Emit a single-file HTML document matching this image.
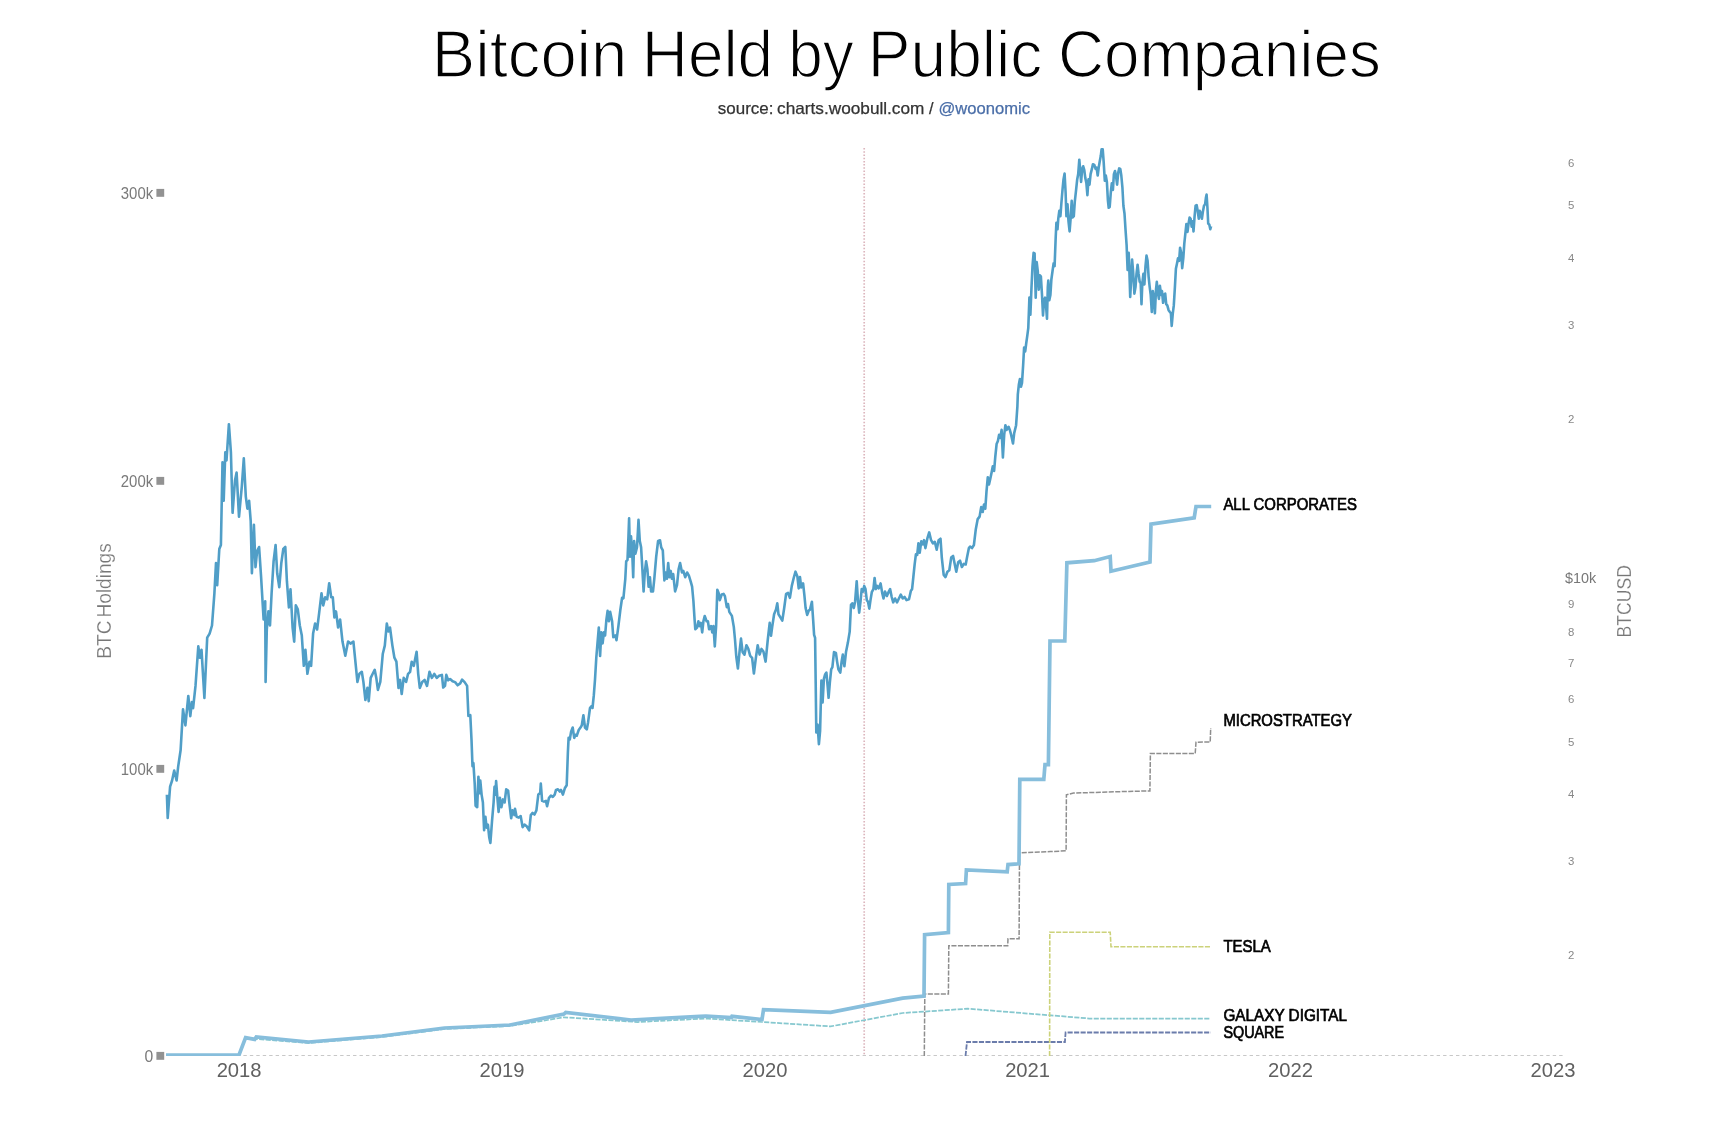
<!DOCTYPE html>
<html><head><meta charset="utf-8"><title>Bitcoin Held by Public Companies</title>
<style>
html,body{margin:0;padding:0;background:#fff;}
body{width:1710px;height:1142px;overflow:hidden;position:relative;font-family:"Liberation Sans",sans-serif;}
svg text{font-family:"Liberation Sans",sans-serif;}
.rt{font-size:11.4px;fill:#888;}
.lt{font-size:15.7px;fill:#7a7a7a;}
.xt{font-size:20.2px;fill:#606060;}
.lab{font-size:16.3px;fill:#000;stroke:#000;stroke-width:0.68px;}
.ax{font-size:18.6px;fill:#777;}
</style></head><body>
<svg id="chart" width="1710" height="1142" viewBox="0 0 1710 1142" style="position:absolute;left:0;top:0;will-change:transform;opacity:0.9999">
<rect width="1710" height="1142" fill="#fff"/>
<text x="431.82" y="77" font-size="67" fill="#000" stroke="#fff" stroke-width="1.45" textLength="195.52" lengthAdjust="spacingAndGlyphs">Bitcoin</text><text x="641.85" y="77" font-size="67" fill="#000" stroke="#fff" stroke-width="1.45" textLength="131.28" lengthAdjust="spacingAndGlyphs">Held</text><text x="788.22" y="77" font-size="67" fill="#000" stroke="#fff" stroke-width="1.45" textLength="65.58" lengthAdjust="spacingAndGlyphs">by</text><text x="867.85" y="77" font-size="67" fill="#000" stroke="#fff" stroke-width="1.45" textLength="174.52" lengthAdjust="spacingAndGlyphs">Public</text><text x="1058.00" y="77" font-size="67" fill="#000" stroke="#fff" stroke-width="1.45" textLength="322.80" lengthAdjust="spacingAndGlyphs">Companies</text>
<text x="717.80" y="113.5" font-size="16.5" fill="#333" stroke="#333" stroke-width="0.25" textLength="55.60" lengthAdjust="spacingAndGlyphs">source:</text><text x="777.10" y="113.5" font-size="16.5" fill="#333" stroke="#333" stroke-width="0.25" textLength="147.30" lengthAdjust="spacingAndGlyphs">charts.woobull.com</text><text x="929.00" y="113.5" font-size="16.5" fill="#333" stroke="#333" stroke-width="0.25" textLength="4.50" lengthAdjust="spacingAndGlyphs">/</text><text x="938.50" y="113.5" font-size="16.5" fill="#4a6ea8" stroke="#4a6ea8" stroke-width="0.25" textLength="91.60" lengthAdjust="spacingAndGlyphs">@woonomic</text>
<line x1="166" y1="1055.5" x2="1564" y2="1055.5" stroke="#c8c8c8" stroke-width="1" stroke-dasharray="3.4,3.05"/>
<line x1="864.2" y1="148" x2="864.2" y2="1055" stroke="#dcb6bd" stroke-width="1.7" stroke-dasharray="1.5,1.72"/>
<text x="153.2" y="198.7" class="lt" text-anchor="end" textLength="32.4" lengthAdjust="spacingAndGlyphs">300k</text><rect x="156.4" y="188.9" width="7.8" height="7.9" fill="#929292"/><text x="153.2" y="486.7" class="lt" text-anchor="end" textLength="32.4" lengthAdjust="spacingAndGlyphs">200k</text><rect x="156.4" y="476.9" width="7.8" height="7.9" fill="#929292"/><text x="153.2" y="774.7" class="lt" text-anchor="end" textLength="32.4" lengthAdjust="spacingAndGlyphs">100k</text><rect x="156.4" y="764.9" width="7.8" height="7.9" fill="#929292"/><text x="153.2" y="1061.7" class="lt" text-anchor="end">0</text><rect x="156.4" y="1051.9" width="7.8" height="7.9" fill="#929292"/>
<text x="1568" y="167.1" class="rt">6</text><text x="1568" y="209.1" class="rt">5</text><text x="1568" y="262.1" class="rt">4</text><text x="1568" y="329.1" class="rt">3</text><text x="1568" y="423.1" class="rt">2</text><text x="1568" y="608.1" class="rt">9</text><text x="1568" y="636.1" class="rt">8</text><text x="1568" y="667.1" class="rt">7</text><text x="1568" y="703.1" class="rt">6</text><text x="1568" y="746.1" class="rt">5</text><text x="1568" y="798.1" class="rt">4</text><text x="1568" y="865.1" class="rt">3</text><text x="1568" y="959.1" class="rt">2</text>
<text x="1565" y="582.8" font-size="14.4" fill="#777">$10k</text>
<text x="239.1" y="1077" class="xt" text-anchor="middle">2018</text><text x="502" y="1077" class="xt" text-anchor="middle">2019</text><text x="765" y="1077" class="xt" text-anchor="middle">2020</text><text x="1027.6" y="1077" class="xt" text-anchor="middle">2021</text><text x="1290.5" y="1077" class="xt" text-anchor="middle">2022</text><text x="1553" y="1077" class="xt" text-anchor="middle">2023</text>
<text class="ax" style="font-size:20.4px;word-spacing:-2.5px" stroke="#fff" stroke-width="0.2" transform="translate(111.3,601) rotate(-90)" text-anchor="middle" textLength="115.5" lengthAdjust="spacingAndGlyphs">BTC Holdings</text>
<text class="ax" style="font-size:20.2px" stroke="#fff" stroke-width="0.2" transform="translate(1631.2,601.3) rotate(-90)" text-anchor="middle" textLength="72.5" lengthAdjust="spacingAndGlyphs">BTCUSD</text>
<clipPath id="plot"><rect x="160" y="140" width="1410" height="916"/></clipPath>
<g clip-path="url(#plot)">
<polyline fill="none" stroke="#509ec7" stroke-width="2.6" stroke-linejoin="round" points="166.9,794.6 167.7,818 170.1,786.6 172.1,780.5 174.2,770.5 176.6,780.5 178.2,766.4 180.6,750.3 183,709.3 185.4,725.4 188.3,696 190.3,716.1 191.9,702 193.1,708.1 195.5,685.9 198.3,646.4 199.9,657.7 201.5,649.7 204.4,698 207.2,637.6 209.6,633.6 212,625.5 214.4,593.3 216,563.1 217.2,585.2 219.3,549 220.9,545 222.5,462.4 223.7,500.7 225.3,452.3 226.5,460.4 228.9,424.2 230.9,452.3 232.6,512.8 235,480.5 236.6,472.5 239,516.8 241.8,486.6 243.8,458.4 245.8,496.6 247.4,508.7 249.1,500.7 250.7,520.8 251.9,573.2 253.9,524.8 255.5,567.1 257.1,551 259.1,547 261.1,577.2 263.6,619.5 265.2,601.3 265.6,681.9 266.8,629.5 268.4,611.4 270,625.5 271.6,593.3 273.6,561.1 275.6,545 277.2,573.2 279.3,587.2 281.3,563.1 283.3,549 285.3,547 286.9,581.2 288.9,607.4 290.5,589.3 292.6,627.5 294.2,641.6 295.8,605.4 297.8,609.4 299.8,625.5 301.8,635.6 303.8,665.8 305.4,649.7 307.4,673.8 309.5,661.7 311.1,665.8 313.1,633.6 315.1,623.5 317.1,629.5 319.1,613.4 321.5,593.3 323.2,605.4 325.2,597.3 327.2,599.3 329.2,583.2 331.2,597.3 332.8,597.3 334.4,617.4 336,611.4 338.1,627.5 340.1,619.5 342.5,641.6 345.3,655.7 348.1,641.6 350.5,643.6 353.4,641.6 355.4,661.7 357.4,681.9 359.4,673.8 361.8,671.8 363.4,681.9 365.4,700 367.4,687.9 368.7,701.2 370.7,677.9 372.7,673.8 374.7,669.8 376.3,677.9 377.9,689.9 380.3,681.9 382.8,653.7 384.8,645.6 386.8,623.5 388.4,631.5 390,627.5 392.4,645.6 394.4,657.7 396.4,661.7 398.5,687.9 400.1,679.9 401.7,694 403.7,677.9 406.1,681.9 408.1,673.8 410.1,671.8 411.7,661.7 413.8,665.8 416.6,651.7 418.2,673.8 419.8,687.9 422.2,681.9 424.6,679.9 427,685.9 429.5,671.8 431.9,677.9 434.3,673.8 436.7,677.9 439.1,675.8 441.9,674.9 443.2,687.5 445,685.9 446.3,674.9 448.2,680.3 450.1,679 452.6,681.2 455.1,682.1 457.6,685.3 460.2,683.4 462.1,679.6 464.6,682.1 467.1,685.9 468.4,715.9 470.3,715.2 471.5,739.5 472.5,766.3 473.4,763.1 474.7,783.6 475.6,805.7 477.2,807.2 478.4,776.7 479.7,793.1 480.3,780.5 481.6,794.6 482.9,802.5 484.1,830.3 485.4,816.7 486.6,827.7 487.9,824.6 489.2,837.2 490.4,842.9 492,821.4 493.6,802.5 494.5,786.8 495.5,794.6 496.1,781.1 497.4,797.8 498.6,812 499.9,797.8 501.4,807.2 503,799.4 504.6,802.5 506.2,789.3 508.1,790.5 509.3,802.5 511.2,818.3 512.5,810.4 514.4,815.1 515,808.8 516.6,816.7 518.8,817.6 520.7,816.1 522.6,827.1 524.5,824.6 526.7,826.2 529.2,830.3 530.8,815.1 532.6,812.9 534.5,814.5 536.4,810.4 538.3,794.6 540.2,793.1 540.8,783.6 542.1,800.9 544,801.6 545.9,800.9 547.1,806.3 549,797.8 550.9,795.6 552.8,796.8 554.7,794.6 556,789.9 557.9,789.3 559.7,791.5 561,789.9 562.9,794.6 564.8,788.3 566.7,785.2 567.9,752.1 568.6,737.9 569.8,739.5 571.1,731.6 572.7,727.5 574.2,737.9 575.5,734.8 576.8,735.7 578.7,730 580.5,727.5 581.8,725.3 583.4,715.2 585,727.5 586.8,729.4 588.1,722.2 590,708 591.3,706.4 592.5,708 593.8,695.4 595,679.6 596.3,657.6 597.6,641.8 598.8,627.6 600.1,656 601.3,632.4 602.6,643.4 603.9,632.4 605.1,635.5 606.4,619.7 607.6,610.9 608.9,621.3 610.2,611.9 612.1,621.3 613.3,637.1 615.2,635.5 616.5,640.2 618.4,626.1 620.3,610.3 622.1,597.7 623.4,598.3 625.3,578.8 626.2,561.4 627.5,559.9 628.4,537.8 629.1,518.3 630,556.7 631,536.2 632.2,552 633.2,577.2 634.1,541 635.4,553.6 637,547.3 637.9,531.5 638.5,519.9 639.8,541 641.1,547.3 642.3,567.8 643.6,591.4 644.8,572.5 646.1,561.4 647.4,569.3 648.6,586.7 649.9,577.2 651.1,591.4 653,591.4 654.3,578.8 656.2,556.7 658.1,541 660,540.3 661.2,547.3 662.8,550.4 664.4,580.4 665.6,572.5 666.9,578.8 668.2,563 669.4,577.2 670.7,570.9 671.9,578.8 673.2,574.1 675.1,591.4 677,585.1 678.6,569.3 680.1,563 682,572.5 683.3,570.9 685.2,577.2 687.1,572.5 688.9,575.6 690.8,581.9 692.1,586.7 693.4,600.8 694.6,619.7 695.3,629.2 697.1,627.6 698.4,621.3 699.7,626.1 700.9,622.9 702.2,632.4 703.4,621.3 704.7,616 706.6,621.3 707.9,621.3 709.1,629.2 711,626.1 712.3,632.4 713.5,626.1 714.8,646.5 716.1,626.1 717.3,589.8 718.6,593 719.8,600.2 721.7,594.5 723.6,593.9 724.9,596.1 726.8,607.1 728,604 729.3,611.9 731.9,615.9 733.8,626.9 735,639.5 736.3,656.8 737.9,668.5 739.5,652.1 741,638.6 742.6,652.1 744.5,654.6 746.4,645.2 748.3,648.9 750.2,655.9 752.1,657.8 753.9,673.5 755.8,658.4 757.7,645.2 759.6,654.6 761.5,648.9 763.4,651.5 765.6,661.6 767.8,639.5 769.7,622.8 771,635.7 772.2,626.9 774.1,614.3 776,609.6 777.3,603.3 778.5,614.3 780.4,617.4 782.3,620.6 784.2,608 786.1,593.8 788,592.9 789.9,597.9 791.8,585.9 793.7,578 795.5,571.7 797.4,576.5 798.7,588.4 800,577.1 801.2,587.5 803.1,583.4 804.4,595.4 805.6,608 807.2,614.9 808.8,610.5 810,609.6 811.9,601.7 813.2,620.6 814.1,634.8 815.1,637.9 815.7,683.6 816.3,732.5 817.6,724.6 818.9,744.1 820.1,730.9 821.4,680.5 822.6,702.5 823.9,678.9 825.2,674.2 826.4,672.6 827.7,686.8 828.6,697.8 829.9,682 831.2,669.4 832.4,667.2 834,652.1 835.9,653 837.1,661.6 838.4,669.4 840.3,672.6 841.6,661.6 842.8,654.6 844.4,666.3 846,652.1 847.9,642.6 849.7,631.6 851,604.8 852.3,603.3 853.8,608 855.1,601.7 856.7,581.2 857.9,600.1 859.2,612.7 860.5,601.7 861.7,589.1 863,591.6 864.2,585.9 865.5,589.1 866.8,600.1 868,601.7 869.3,608.6 870.5,600.1 871.8,592.2 873.4,589.1 874.6,578 875.9,589.1 877.2,585.9 878.7,588.4 880.6,583.4 882.2,592.9 883.5,598.5 885,591.6 886.9,596 888.5,592.2 890.1,589.1 891.7,597 893.2,602.3 895.1,598.5 897,602.3 898.9,598.5 900.8,594.7 902.7,598.5 904.6,597 906.5,600.1 909,599.2 910.9,590.7 912.1,589.1 913.4,576.5 914.7,563.9 915.9,554.4 917.2,555 918.4,543.4 919.7,552.8 921.3,541.2 922.9,544.3 924.1,540.2 925.4,548.1 927.3,538.7 929.2,532.4 931.1,540.2 932.9,543.4 934.8,541.8 936.7,549.7 938.6,540.2 940.5,538.7 941.8,557.6 943.7,574.9 945.5,577.1 947.4,571.7 949.3,570.2 951.2,557.6 953.1,556 955,565.4 956.3,571.7 958.2,562.3 960,560.7 961.9,567 963.8,563.9 965.7,564.5 967,557.6 968.9,548.1 970.1,546.5 972,548.1 973.9,545 975.8,529.2 977.7,519.1 979.6,516.6 981.2,507.1 982.7,511.9 984,504.6 985.3,508.7 986.5,491.4 987.8,477.2 989,484.5 990.3,478.8 991.6,472.5 992.8,466.2 994.1,470.9 995.3,456.7 996.6,444.1 997.9,441 999.1,434.7 1000.4,437.8 1001.6,429.9 1002.9,457.4 1004.2,434.7 1005.4,425.2 1006.7,429.9 1008.6,426.8 1009.8,429.9 1011.1,434.7 1013,443.5 1014.2,433.1 1016.1,425.2 1017.4,406.3 1017.8,394.7 1018.9,384.2 1019.9,379 1021,386.8 1022,382.9 1023.1,365.8 1024.1,347.5 1025.2,351.4 1026.2,343.5 1027.3,335.6 1028.3,327.8 1029.4,297.6 1030.4,314.6 1031.5,287.1 1032.5,266.1 1033.6,252.9 1034.6,253.4 1035.7,297.6 1036.7,262.1 1037.8,271.3 1038.8,289.7 1039.9,275.2 1040.9,276.6 1042,294.9 1043,315.4 1044.1,300.2 1045.1,297.6 1046.2,308.1 1047,318.6 1047.8,287.1 1048.3,280.5 1049.3,300.2 1050.4,294.9 1051.4,279.2 1052.5,271.3 1053.6,263.4 1054.6,266.1 1055.7,237.2 1056.4,222.7 1057.5,229.3 1058.3,218.3 1059.3,210.9 1060.4,216.2 1061.4,203 1062.5,189.9 1063.5,179.4 1064.6,173.6 1065.6,192.5 1066.4,216.2 1067.5,204.3 1068.5,221.4 1069.6,231.4 1070.6,218.8 1071.7,200.9 1072.7,217.5 1073.8,216.2 1074.8,201.7 1076.1,189.9 1077.2,179.4 1078.2,174.1 1079.3,159.7 1080.1,168.9 1081.1,182 1082.2,168.9 1083.2,166.3 1084.3,170.2 1085.3,178.1 1086.4,183.3 1087.4,195.1 1088.5,179.4 1089.5,184.6 1090.6,174.1 1091.9,168.9 1092.9,164.2 1094.3,164.9 1095.6,168.9 1096.6,167.6 1097.7,175.5 1098.7,167.6 1099.8,161 1100.8,155.8 1101.6,149.2 1102.7,149.2 1103.7,162.3 1104.8,180.7 1105.8,175.5 1106.9,182 1107.9,200.4 1108.7,207.8 1109.7,207 1110.8,192.5 1111.8,183.3 1112.9,189.9 1113.9,174.1 1115,171 1116.1,176.8 1117.1,184.6 1118.2,172.8 1119.2,168.4 1120.3,168.9 1121.3,175.5 1122.4,187.3 1123.4,205.7 1124.5,213.5 1125.5,229.3 1126.6,245 1127.6,270 1128.7,252.9 1129.4,271.3 1130.2,297 1131.3,276.6 1132.1,259.5 1133.1,271.3 1134.4,293.6 1135.5,287.1 1136.5,273.9 1137.6,264.7 1138.6,273.9 1139.7,281.8 1140.7,283.1 1141.5,304.1 1142.3,283.9 1143.4,273.9 1144.4,284.4 1145.5,266.1 1146.5,255.5 1147.6,260.8 1148.6,276.6 1149.7,287.1 1150.7,294.9 1151.8,312 1152.8,291 1153.9,297.6 1154.9,313.3 1156,289.7 1156.8,281.8 1157.8,292.3 1158.9,298.9 1159.9,285.7 1161,294.9 1162,291 1163.1,302.8 1164.1,294.9 1165.2,293.6 1166.2,304.1 1167.3,305.4 1168.6,310.2 1169.9,312 1170.9,313.3 1171.7,325.9 1172.8,313.3 1173.8,305.4 1174.9,287.1 1175.9,268.7 1177,263.4 1178,258.2 1179.1,260.8 1180.1,247.7 1181.2,252.9 1182.2,268.2 1183.3,258.2 1184.3,243.7 1185.4,233.2 1186.4,224 1187.5,231.9 1188.5,224 1189.6,217.5 1190.6,218.8 1191.7,226.7 1192.7,221.4 1193.5,231.4 1194.6,216.2 1195.6,205.7 1196.7,205.1 1197.7,210.9 1198.8,218.8 1199.8,210.9 1200.9,213.5 1201.9,218.8 1203,210.9 1204,205.7 1205.1,204.3 1205.9,197.8 1206.6,194.6 1207.4,207 1208.2,223.5 1209.3,224.6 1210.3,229.3 1211.1,226.1"/>
<polyline fill="none" stroke="#86c8cf" stroke-width="1.75" stroke-dasharray="5.1,1.4" points="166,1055 239,1055 245.4,1039 256,1039 308.6,1043 382,1037 444.5,1029 510,1026 564,1017.3 637.7,1022 706,1018.5 762,1022 830.6,1026.4 902.7,1013 968,1008.7 1089.3,1018.5 1210.5,1018.5"/>
<polyline fill="none" stroke="#8e8e8e" stroke-width="1.5" stroke-dasharray="5.1,1.4" points="924.3,1056 924.8,994 948.4,994 948.8,945.7 1007.7,945.7 1008,938.7 1019.1,938.7 1019.5,852.8 1050.3,851.6 1066.1,850.8 1066.4,794.8 1073.6,793.1 1129,791.4 1149.9,790.9 1150.4,753.5 1195.2,753.5 1196,742.2 1210.2,742 1210.7,728"/>
<polyline fill="none" stroke="#6b7cab" stroke-width="1.8" stroke-dasharray="5.1,1.4" points="965.5,1056 967,1042 1064.9,1042 1065.6,1032.5 1210.8,1032.5"/>
<polyline fill="none" stroke="#ccd27a" stroke-width="1.6" stroke-dasharray="5.1,1.4" points="1049.6,1056 1049.8,932.3 1110.2,932.3 1111,946.8 1210.8,946.8"/>
<polyline fill="none" stroke="#87bedc" stroke-width="3.7" stroke-linejoin="miter" points="166,1055 239,1055 245.6,1037.6 254.7,1039.4 256.3,1037 308.6,1042 382,1036 444.5,1028 510,1025 564,1014 565.7,1012.4 631,1020 700,1016.3 706,1016 731.4,1017.6 732,1016.3 762,1019.5 763.5,1009.7 830.6,1012.3 902.7,998.2 924,996 924.6,934.6 948.4,932.5 948.8,884.4 965.6,883.5 966.4,870 1007.2,871.8 1008,864.6 1019,863.8 1019.8,779.3 1043.8,779.3 1045,764.6 1048.4,764.6 1050,641 1064.8,641 1066.9,562.8 1094.2,560.7 1110.2,556.5 1111,571.2 1129,567 1150,562 1151,524.1 1194.2,517.8 1196,506.5 1211.2,506.5"/>
</g>
<text class="lab" x="1223.4" y="509.5" textLength="133.5" lengthAdjust="spacingAndGlyphs">ALL CORPORATES</text>
<text class="lab" x="1223.4" y="725.5" textLength="128.5" lengthAdjust="spacingAndGlyphs">MICROSTRATEGY</text>
<text class="lab" x="1223.4" y="952" textLength="47.4" lengthAdjust="spacingAndGlyphs">TESLA</text>
<text class="lab" x="1223.4" y="1020.6" textLength="123.6" lengthAdjust="spacingAndGlyphs">GALAXY DIGITAL</text>
<text class="lab" x="1223.4" y="1038.3" textLength="60.7" lengthAdjust="spacingAndGlyphs">SQUARE</text>
</svg>
</body></html>
